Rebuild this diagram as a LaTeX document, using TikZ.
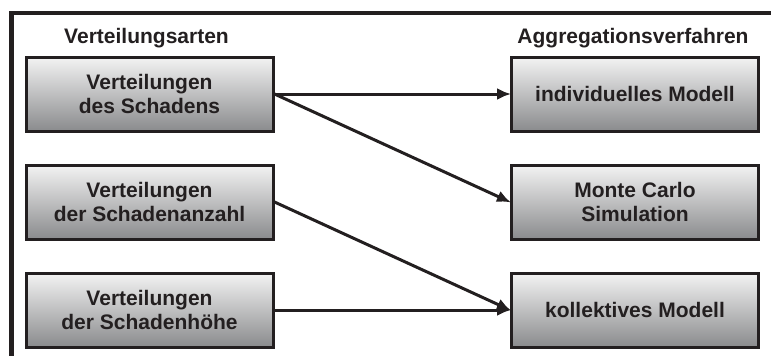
\documentclass[tikz,border=0pt]{standalone}
\usepackage{fontspec}
\setmainfont{Liberation Sans}
\usetikzlibrary{arrows.meta}
\definecolor{ink}{HTML}{231F20}
\definecolor{boxtop}{HTML}{F3F3F3}
\definecolor{boxbottom}{HTML}{8A8B8D}
\begin{document}
\begin{tikzpicture}[x=1pt,y=-1pt,
  every node/.style={font=\fontsize{21}{24}\selectfont\bfseries, text=ink},
  stage/.style={draw=ink, line width=3pt, minimum width=247pt, minimum height=74pt,
    inner sep=0pt, align=center, top color=boxtop, bottom color=boxbottom},
  heading/.style={anchor=base},
  link/.style={draw=ink, line width=3pt, -{Latex[length=14pt,width=12pt]}, shorten >=-1pt},
  frame/.style={draw=ink, line width=4.5pt, line join=miter}]
\useasboundingbox (0,0) rectangle (771,356);
\begin{scope}
\clip (0,0) rectangle (771,356);
\draw[frame] (775,13) -- (11.5,13) -- (11.5,360);
\end{scope}

% column headings
\node[heading] (hleft) at (146.5,43) {Verteilungsarten};
\node[heading] (hright) at (633,43) {Aggregationsverfahren};

% distribution types
\node[stage] (schaden) at (149.5,94) {Verteilungen\\des Schadens};
\node[stage] (anzahl) at (149.5,202) {Verteilungen\\der Schadenanzahl};
\node[stage] (hoehe) at (149.5,310) {Verteilungen\\der Schadenhöhe};

% aggregation methods
\node[stage] (indiv) at (635,94) {individuelles Modell};
\node[stage] (monte) at (635,202) {Monte Carlo\\Simulation};
\node[stage] (koll) at (635,310) {kollektives Modell};

% connectors
\draw[link] (schaden.east) -- (indiv.west);
\draw[link] (schaden.east) -- (monte.west);
\draw[link] (anzahl.east) -- (koll.west);
\draw[link] (hoehe.east) -- (koll.west);
\end{tikzpicture}
\end{document}
